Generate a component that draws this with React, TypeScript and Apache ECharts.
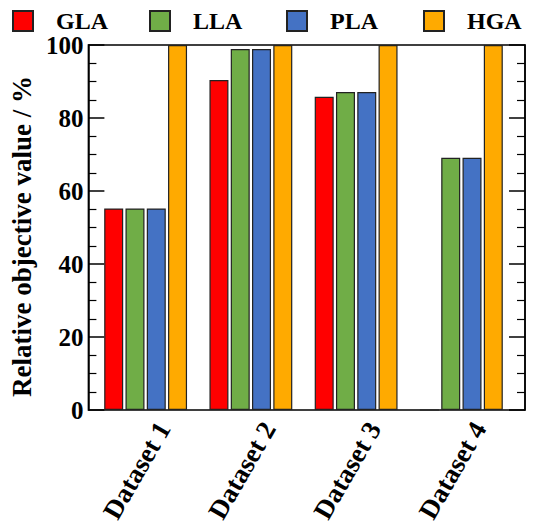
import React, { useEffect, useRef } from "react";
import * as echarts from "echarts";

const categories = ["Dataset 1", "Dataset 2", "Dataset 3", "Dataset 4"];
const seriesNames = ["GLA", "LLA", "PLA", "HGA"];
const gla = [55.2, 90.4, 85.8, 0];
const lla = [55.2, 98.9, 87.1, 69.1];
const pla = [55.2, 98.9, 87.1, 69.1];
const hga = [100, 100, 100, 100];
const colors = ["#FF0000", "#70AD47", "#4472C4", "#FFAA00"];

const FONT = "Liberation Serif";

const ticks = {
  axisLine: { show: true, lineStyle: { color: "#000", width: 1.5 } },
  axisTick: { show: true, inside: true, length: 16, lineStyle: { color: "#000", width: 1.5 } },
  minorTick: { show: true, splitNumber: 4, length: 8, lineStyle: { color: "#000", width: 1.2 } },
  splitLine: { show: false },
};

export default function App() {
  const ref = useRef<HTMLDivElement>(null);

  useEffect(() => {
    if (!ref.current) return;
    const chart = echarts.init(ref.current, null, { renderer: "svg" });
    const values = [gla, lla, pla, hga];

    chart.setOption({
      animation: false,
      backgroundColor: "#fff",
      textStyle: { fontFamily: FONT, fontWeight: "bold", color: "#000" },
      legend: {
        left: 7,
        top: 4,
        itemWidth: 20,
        itemHeight: 20,
        itemGap: 35,
        icon: "rect",
        data: seriesNames,
        textStyle: {
          fontFamily: FONT,
          fontWeight: "bold",
          fontSize: 24,
          lineHeight: 20,
          color: "#000",
          width: 58,
          padding: [0, 0, 0, 18],
        },
      },
      grid: [
        // frame with the value axes
        { left: 82, right: 17, top: 45, bottom: 119, show: true, borderColor: "#000", borderWidth: 1.5, backgroundColor: "transparent" },
        // bars
        { left: 93, right: 28, top: 45, bottom: 119 },
        // category labels
        { left: 111, right: 10, top: 45, bottom: 119 },
      ],
      xAxis: [
        { gridIndex: 0, type: "value", show: false, min: 0, max: 1 },
        {
          gridIndex: 1,
          type: "category",
          data: categories,
          axisLine: { show: false },
          axisTick: { show: false },
          axisLabel: { show: false },
        },
        {
          gridIndex: 2,
          type: "category",
          data: categories,
          axisLine: { show: false },
          axisTick: { show: false },
          axisLabel: {
            rotate: 60,
            margin: 14,
            fontFamily: FONT,
            fontWeight: "bold",
            fontSize: 27,
            color: "#000",
          },
        },
      ],
      yAxis: [
        {
          gridIndex: 0,
          type: "value",
          min: 0,
          max: 100,
          interval: 20,
          name: "Relative objective value / %",
          nameLocation: "middle",
          nameGap: 50,
          nameTextStyle: {
            fontFamily: FONT,
            fontWeight: "bold",
            fontSize: 27,
            color: "#000",
            padding: [0, 18, 0, 0],
          },
          ...ticks,
          axisLabel: {
            margin: 5,
            fontFamily: FONT,
            fontWeight: "bold",
            fontSize: 25,
            lineHeight: 20,
            color: "#000",
          },
        },
        {
          gridIndex: 0,
          type: "value",
          position: "right",
          min: 0,
          max: 100,
          interval: 20,
          ...ticks,
          axisLabel: { show: false },
        },
        { gridIndex: 1, type: "value", min: 0, max: 100, show: false },
        { gridIndex: 2, type: "value", min: 0, max: 100, show: false },
      ],
      series: seriesNames.map((name, i) => ({
        name,
        type: "bar",
        xAxisIndex: 1,
        yAxisIndex: 2,
        data: values[i],
        barWidth: 19,
        barGap: "12%",
        itemStyle: { color: colors[i], borderColor: "#222", borderWidth: 1.2 },
      })),
    });

    return () => chart.dispose();
  }, []);

  return <div ref={ref} style={{ width: 542, height: 529, margin: -8 }} />;
}
